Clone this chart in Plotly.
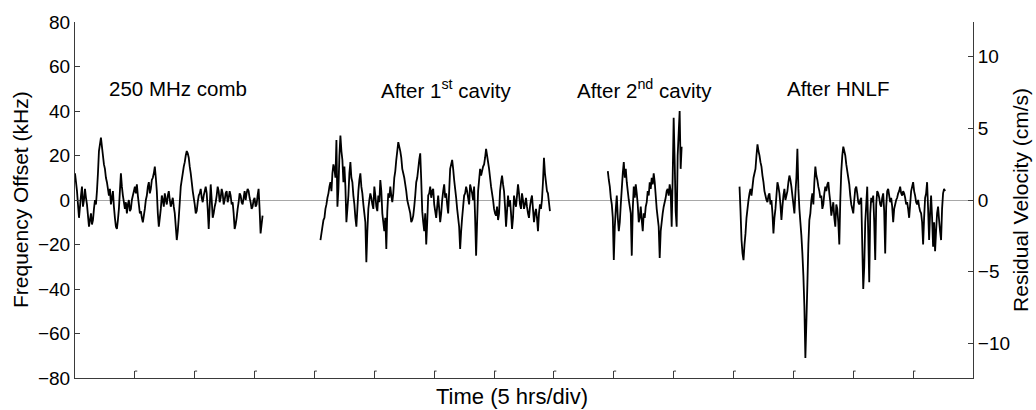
import plotly.graph_objects as go

# Time sampling: 5-minute samples (hours)
dt_hours = 1.0 / 12.0

seg1_start = 0.0
seg1_values = [12, 8, 4, -2, -8, -3, 2, 6, -3, 0, 5, 1, -2, -7, -12, -9, -6, -11, -9, -4,
               0, -2, 4, 12, 22, 25, 28, 24, 20, 16, 14, 10, 8, 5, 2, 5, -2, 1, 4, -3,
               -8, -12, -13, -9, -4, 4, 12, 6, 2, -1, -4, -1, -6, -2, 0, -5, -4, 0, 2, 4,
               6, 3, 7, 2, -2, -6, -5, -8, -10, -7, -4, 0, 2, 6, 8, 3, 5, 9, 10, 12,
               15, 10, 4, -6, -12, -8, -4, 2, 0, -3, 3, 0, -2, 2, 4, 0, -3, -1, 1, -3,
               -6, -12, -18, -14, -8, -1, 6, 9, 12, 15, 17, 20, 22, 21, 19, 15, 12, 8, 4, 1,
               -2, -6, -5, -1, 2, 3, 5, 1, -1, 2, 4, 6, 3, -4, -13, -3, 7, 0, -8, -6,
               -3, -1, 2, 6, 4, -1, 1, 5, 3, -2, 0, 3, 4, -1, 1, 4, 2, -2, -1, -6,
               -13, -11, -8, -4, -1, 3, 2, -1, -2, 1, 4, 0, 3, 5, 4, 1, -1, -4, -3, 0,
               1, -3, -2, 2, 5, -4, -15, -11, -7]

seg2_start = 20.5
seg2_values = [-18, -15, -12, -9, -8, -4, -2, 1, 3, 6, 8, 4, 12, 16, 14, 10, 27, -3, 5, 20,
               29, 22, 18, 8, 15, 6, -10, -4, 2, 12, 17, 10, 8, 2, -2, -8, -12, -4, 4, 9,
               12, 6, 3, -2, -6, -10, -28, -14, -4, 0, 3, 1, -2, -4, 6, 2, -3, -5, 2, -1,
               9, 4, -6, -10, -14, -8, -22, -5, 3, 1, 6, 2, -1, 3, 10, 13, 18, 22, 26, 24,
               22, 19, 14, 12, 10, 7, 4, 0, -2, -4, -6, -10, -9, -7, -3, 2, 8, 10, 14, 18,
               21, 9, -5, -10, -14, -6, -20, -10, 2, 3, 6, 1, 4, 5, -2, -5, -8, -3, 2, -4,
               -10, -6, 0, 4, 7, 1, 3, -2, -6, 4, 14, 16, 18, 14, 9, 5, 1, -4, -8, -12,
               -22, -14, -8, -3, 2, 3, 6, 4, 1, -2, 7, 5, 3, 0, 6, -8, -25, -10, 4, 9,
               14, 11, 13, 15, 16, 19, 23, 20, 17, 14, 10, 6, 3, 0, -4, -6, -7, -3, -9, -6,
               4, 8, 11, 7, 4, -3, -12, -5, 2, -3, 0, -6, -13, -8, 2, -1, -3, 2, 7, 3,
               -2, -4, 3, 0, -4, -2, 1, -3, -6, -8, -3, 0, 2, -4, -10, -6, -4, -8, -14, -6,
               -2, -4, 0, 8, 19, 12, 8, 4, 3, -1, -5]

seg3_start = 44.5
seg3_values = [13, 9, 6, 1, -2, -8, -27, -12, -4, 2, -8, -14, -10, -2, 5, 12, 17, 10, 14, 8,
               4, 0, -3, -6, -25, -4, 6, 1, 7, 3, -2, -10, -8, -3, -9, -14, -6, -8, -3, -1,
               4, 2, 8, 5, 10, 7, 12, 8, 2, -4, -8, -12, -26, -14, -10, -6, -3, -1, 1, 4,
               5, 2, 7, 4, -12, 10, 37, 18, -5, -12, 20, 30, 40, 14, 24]

seg4_start = 55.5
seg4_values = [6, -5, -18, -24, -27, -20, -15, -8, -4, 0, 3, 5, 2, 6, 10, 12, 14, 20, 25, 22,
               20, 17, 15, 11, 8, 4, 2, 0, -1, 2, 3, -2, 0, -6, -15, -8, -4, 2, 8, 6,
               3, -2, -9, -3, 2, 5, 0, 2, 4, 8, 11, 9, 6, 2, -2, -6, 3, 10, 23, 5,
               -4, -10, -16, -24, -34, -48, -71, -55, -38, -20, -9, -6, 0, 3, -2, 8, 15, 11, 9, 6,
               4, 1, 2, -4, -2, 3, 6, 4, 7, 8, 3, -1, -7, -4, -1, -8, -12, -2, -4, -10,
               -20, 0, 13, 20, 24, 22, 20, 16, 13, 10, 7, 2, -2, -4, -6, 0, 5, 6, 3, -1,
               -2, 0, 1, -20, -40, -30, -10, -2, 6, -15, -37, -6, 1, -1, 2, -10, -27, -2, 4, 3,
               1, -2, -3, 1, 3, -5, -24, -3, 4, 5, 2, -1, 1, -3, -10, -4, -2, 0, 1, 3,
               4, 6, 3, 2, 4, 3, 1, -2, -1, -4, -8, -2, 4, 6, 8, 4, 2, -1, -2, 0,
               -3, -5, -6, -10, -20, -8, 1, 3, 8, -4, -18, -6, 2, -8, -21, -10, -23, -14, -6, -3,
               -9, -14, -18, -4, 3, 5, 4]

segments = [(seg1_start, seg1_values), (seg2_start, seg2_values),
            (seg3_start, seg3_values), (seg4_start, seg4_values)]

x_tick_hours = [5 * k for k in range(1, 15)]
y_ticks = [-80, -60, -40, -20, 0, 20, 40, 60, 80]
y2_ticks = [-10, -5, 0, 5, 10]

labels = [
    (8.6, 50, "250 MHz comb"),
    (31.0, 50, "After 1<sup>st</sup> cavity"),
    (47.6, 50, "After 2<sup>nd</sup> cavity"),
    (63.8, 50, "After HNLF"),
]

FONT = "Arial, Liberation Sans, sans-serif"
AXIS_COLOR = "#3a3a3a"

fig = go.Figure()
for start, vals in segments:
    xs = [start + i * dt_hours for i in range(len(vals))]
    fig.add_trace(go.Scatter(x=xs, y=vals, mode="lines",
                             line=dict(color="black", width=1.8, simplify=False),
                             showlegend=False, hoverinfo="skip"))

# dummy trace to carry the right-hand axis
fig.add_trace(go.Scatter(x=[None], y=[None], yaxis="y2", showlegend=False,
                         hoverinfo="skip"))

# small hook at the top of each bottom tick
for t in x_tick_hours:
    fig.add_shape(type="line", xref="x", yref="paper", x0=t, x1=t + 0.2,
                  y0=0.0194, y1=0.0194, line=dict(color=AXIS_COLOR, width=1))

for x, y, t in labels:
    fig.add_annotation(x=x, y=y, text=t, showarrow=False,
                       font=dict(family=FONT, size=20.5, color="black"),
                       xanchor="center", yanchor="middle")

fig.add_annotation(x=0.4866, y=-0.053, xref="paper", yref="paper",
                   text="Time (5 hrs/div)", showarrow=False,
                   font=dict(family=FONT, size=22, color="black"),
                   xanchor="center", yanchor="middle")
fig.add_annotation(x=-0.0612, y=0.5, xref="paper", yref="paper",
                   text="Frequency Offset (kHz)", showarrow=False, textangle=-90,
                   font=dict(family=FONT, size=21, color="black"),
                   xanchor="center", yanchor="middle")
fig.add_annotation(x=1.0523, y=0.5, xref="paper", yref="paper",
                   text="Residual Velocity (cm/s)", showarrow=False, textangle=-90,
                   font=dict(family=FONT, size=21, color="black"),
                   xanchor="center", yanchor="middle")

fig.update_layout(
    width=1036, height=410,
    margin=dict(l=75, r=63, t=18, b=32),
    paper_bgcolor="white", plot_bgcolor="white",
    font=dict(family=FONT, size=19, color="black"),
    xaxis=dict(range=[0, 75], tickvals=x_tick_hours, ticks="inside", ticklen=7,
               tickcolor=AXIS_COLOR, showticklabels=False, showline=True,
               linecolor=AXIS_COLOR, linewidth=1, showgrid=False, zeroline=False),
    yaxis=dict(range=[-80, 80], tickvals=y_ticks, ticks="inside", ticklen=5,
               tickcolor=AXIS_COLOR, showline=True, linecolor=AXIS_COLOR, linewidth=1,
               showgrid=False, zeroline=True, zerolinecolor="#a8a8a8", zerolinewidth=1,
               tickfont=dict(family=FONT, size=19, color="black")),
    yaxis2=dict(range=[-12.43, 12.43], tickvals=y2_ticks, overlaying="y", side="right",
                ticks="inside", ticklen=5, tickcolor=AXIS_COLOR, showline=True,
                linecolor=AXIS_COLOR, linewidth=1, showgrid=False, zeroline=False,
                tickfont=dict(family=FONT, size=19, color="black")),
)

fig.write_html("out.html", config={"displayModeBar": False},
               post_script="document.body.style.margin='0';document.body.style.overflow='hidden';")
